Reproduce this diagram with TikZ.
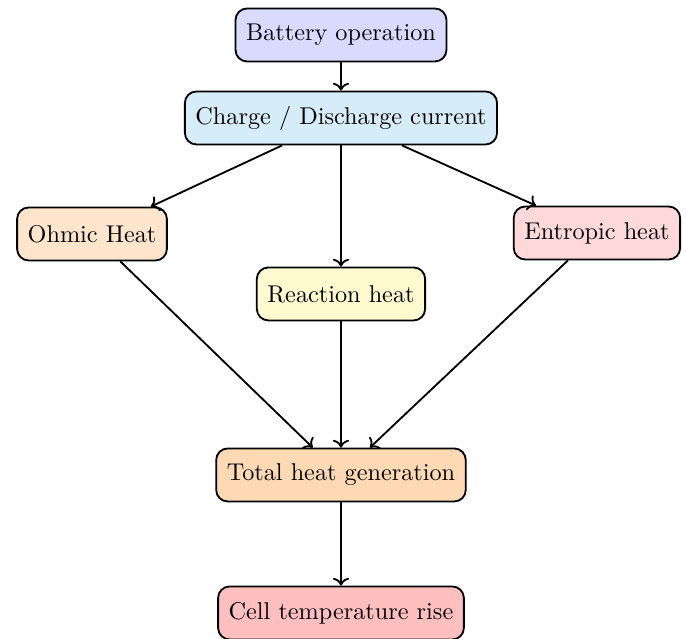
\documentclass[tikz,border=0pt]{standalone}
\usetikzlibrary{arrows.meta}

\definecolor{batfill}{RGB}{218,218,255}
\definecolor{curfill}{RGB}{214,236,249}
\definecolor{ohmfill}{RGB}{255,229,204}
\definecolor{reafill}{RGB}{255,250,208}
\definecolor{entfill}{RGB}{255,217,217}
\definecolor{totfill}{RGB}{255,217,180}
\definecolor{cellfill}{RGB}{255,191,191}

\tikzset{
  box/.style={draw, thick, rounded corners=5pt, minimum height=0.81cm,
              inner xsep=4.6pt, align=center,
              font=\fontsize{10.55}{12.7}\selectfont},
  flow/.style={->, thick}
}

\begin{document}
\begin{tikzpicture}
  \useasboundingbox (0,0) rectangle (10.49,-9.77);

  \node[box, fill=batfill]  (bat)  at (5.214,-0.535) {Battery operation};
  \node[box, fill=curfill]  (cur)  at (5.214,-1.804) {Charge / Discharge current};
  \node[box, fill=ohmfill]  (ohm)  at (1.407,-3.578) {Ohmic Heat};
  \node[box, fill=reafill]  (rea)  at (5.214,-4.495) {Reaction heat};
  \node[box, fill=entfill]  (ent)  at (9.128,-3.563) {Entropic heat};
  \node[box, fill=totfill]  (tot)  at (5.214,-7.263) {Total heat generation};
  \node[box, fill=cellfill] (cell) at (5.214,-9.373) {Cell temperature rise};

  \draw[flow] (bat) -- (cur);
  \draw[flow] (cur) -- (ohm);
  \draw[flow] (cur) -- (rea);
  \draw[flow] (cur) -- (ent);
  \draw[flow] (ohm) -- (tot);
  \draw[flow] (rea) -- (tot);
  \draw[flow] (ent) -- (tot);
  \draw[flow] (tot) -- (cell);
\end{tikzpicture}
\end{document}
